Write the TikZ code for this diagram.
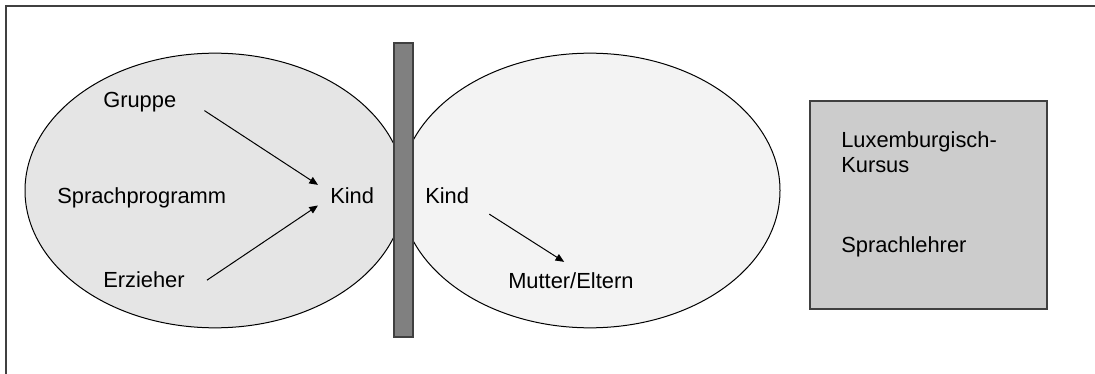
\documentclass[tikz,border=0pt]{standalone}
\usepackage{fontspec}
\setmainfont{Liberation Sans}
\usepackage{tikz}
\usetikzlibrary{positioning,arrows.meta,shapes.geometric}
\definecolor{figFrame}{HTML}{404040}
\definecolor{figLeft}{HTML}{E5E5E5}
\definecolor{figRight}{HTML}{F3F3F3}
\definecolor{figBar}{HTML}{808080}
\definecolor{figBox}{HTML}{CCCCCC}

\begin{document}
\begin{tikzpicture}[
  x=0.75pt, y=-0.75pt,
  every node/.style={font=\fontsize{16.4}{18.75}\selectfont},
  word/.style={inner sep=0pt, anchor=base west, align=left},
  field/.style={ellipse, draw=black, line width=0.75pt, fill=#1,
    minimum width=285pt, minimum height=206pt, inner sep=0pt},
  field/.default=figLeft,
  arrow/.style={-{Triangle[length=6.5pt, width=5.5pt]}, line width=0.75pt},
]
\useasboundingbox (0,0) rectangle (1095,374);

% frame (top and left only)
\draw[figFrame, line width=1.2pt] (1095,6) -- (6,6) -- (6,374);

% === left field ===
\node[field] (left) at (215,190.5) {};
\node[field=figRight] (right) at (590,190.5) {};

% divider bar
\node[rectangle, draw=figFrame, line width=1.2pt, fill=figBar,
  minimum width=14pt, minimum height=220.5pt, inner sep=0pt] (bar) at (403.5,190) {};

\node[word] (gruppe) at (103,108) {Gruppe};
\node[word] (sprach) at (57,203) {Sprachprogramm};
\node[word] (erzieher) at (103,287) {Erzieher};
\node[word] (kindL) at (330,203) {Kind};

\draw[arrow] ([xshift=21pt, yshift=-6pt]gruppe.east) -- ([xshift=-9pt, yshift=1.5pt]kindL.north west);
\draw[arrow] ([xshift=16.5pt, yshift=-0.75pt]erzieher.east) -- ([xshift=-9pt, yshift=-1.5pt]kindL.south west);

% === right field ===
\node[word] (kindR) at (425,203) {Kind};
\node[word] (eltern) at (508,288) {Mutter/Eltern};

\draw[arrow] ([xshift=15pt, yshift=-8pt]kindR.south east) -- ([xshift=-5pt, yshift=7.5pt]eltern.north);

% === course box ===
\node[rectangle, draw=figFrame, line width=1pt, fill=figBox,
  minimum width=177.75pt, minimum height=156pt, inner sep=0pt] (kurs) at (928.5,205) {};
\node[word] (lux) at (841,172) {Luxemburgisch-\\Kursus};
\node[word] (lehrer) at (841,252) {Sprachlehrer};
\end{tikzpicture}
\end{document}
